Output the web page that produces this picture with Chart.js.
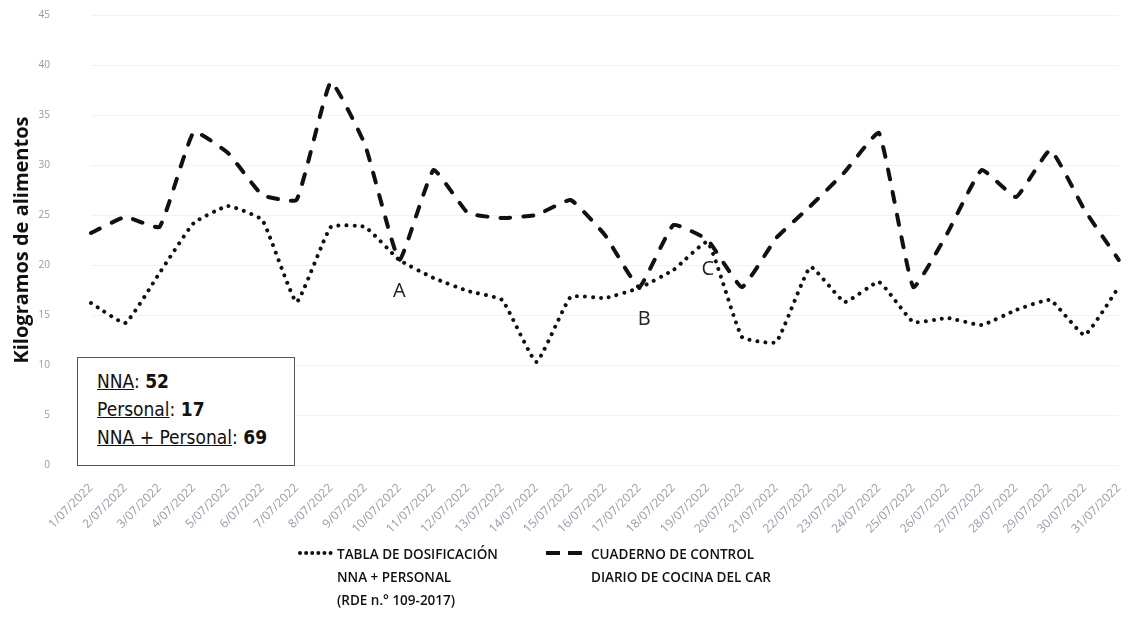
<!DOCTYPE html>
<html>
<head>
<meta charset="utf-8">
<script src="https://cdn.jsdelivr.net/npm/chart.js"></script>
<style>
  html, body { margin: 0; padding: 0; background: #fff; }
  #wrap { position: relative; width: 1137px; height: 636px; overflow: hidden; }
  #chart { position: absolute; left: 0; top: 0; }
  #infoBox {
    position: absolute; left: 77px; top: 357px; width: 218px; height: 109px;
    border: 1px solid #555; background: #fff;
    font-family: "Liberation Sans Narrow", "DejaVu Sans Condensed", sans-serif;
    font-size: 19px; color: #111; line-height: 28px;
    padding: 9px 0 0 19px; box-sizing: border-box;
  }
  .legend {
    position: absolute; top: 543px;
    font-family: "Open Sans", sans-serif; font-weight: 600; font-size: 13.5px;
    color: #111; line-height: 23px;
  }
  .sample { position: absolute; top: 4px; }
</style>
</head>
<body>
<div id="wrap">
  <canvas id="chart" width="1137" height="636"></canvas>
  <div id="infoBox">
    <u>NNA</u>: <b>52</b><br>
    <u>Personal</u>: <b>17</b><br>
    <u>NNA + Personal</u>: <b>69</b>
  </div>
  <div class="legend" style="left:337px">
    <svg class="sample" style="left:-40px" width="36" height="12">
      <line x1="3" y1="6" x2="34" y2="6" stroke="#111" stroke-width="4" stroke-linecap="round" stroke-dasharray="0.01 6.1"/>
    </svg>
    TABLA DE DOSIFICACIÓN<br>NNA + PERSONAL<br>(RDE n.° 109-2017)
  </div>
  <div class="legend" style="left:591px">
    <svg class="sample" style="left:-47px" width="40" height="12">
      <line x1="2" y1="6" x2="38" y2="6" stroke="#111" stroke-width="4" stroke-dasharray="14 8"/>
    </svg>
    CUADERNO DE CONTROL<br>DIARIO DE COCINA DEL CAR
  </div>
</div>
<script>
// Dates (x axis)
const days = [
  "1/07/2022", "2/07/2022", "3/07/2022", "4/07/2022", "5/07/2022", "6/07/2022",
  "7/07/2022", "8/07/2022", "9/07/2022", "10/07/2022", "11/07/2022", "12/07/2022",
  "13/07/2022", "14/07/2022", "15/07/2022", "16/07/2022", "17/07/2022", "18/07/2022",
  "19/07/2022", "20/07/2022", "21/07/2022", "22/07/2022", "23/07/2022", "24/07/2022",
  "25/07/2022", "26/07/2022", "27/07/2022", "28/07/2022", "29/07/2022", "30/07/2022",
  "31/07/2022"
];

// Tabla de dosificación NNA + personal (dotted)
const tabla = [
  16.2, 14.2, 19.2, 24.2, 25.9, 24.5, 16.3, 23.8, 23.8, 20.5, 18.7,
  17.4, 16.5, 10.3, 16.8, 16.7, 17.7, 19.5, 22.3, 12.8, 12.3,
  19.8, 16.3, 18.3, 14.3, 14.7, 14.0, 15.5, 16.5, 13.0, 17.8
];

// Cuaderno de control diario de cocina (dashed)
const cuaderno = [
  23.2, 24.8, 23.8, 33.3, 31.2, 27.0, 26.5, 38.3, 32.0, 20.5, 29.5,
  25.2, 24.7, 25.0, 26.5, 23.0, 17.8, 24.0, 22.5, 17.8, 22.7,
  25.9, 29.3, 33.2, 17.8, 23.2, 29.5, 26.8, 31.5, 25.5, 20.5
];

// Letters marked on the chart
const markLetters = ["A", "B", "C"];
const markIndex = [9, 16, 18];
const markValue = [17.4, 14.6, 19.6];

const yTicks = [0, 5, 10, 15, 20, 25, 30, 35, 40, 45];

// Draw the A / B / C letters at data positions
const letterPlugin = {
  id: "letters",
  afterDatasetsDraw(chart) {
    const ctx = chart.ctx;
    const x = chart.scales.x;
    const y = chart.scales.y;
    ctx.save();
    ctx.fillStyle = "#222";
    ctx.font = "20px 'Open Sans', sans-serif";
    ctx.textAlign = "center";
    ctx.textBaseline = "middle";
    markLetters.forEach((letter, i) => {
      ctx.fillText(letter, x.getPixelForValue(markIndex[i]) + (i === 1 ? 5 : 0), y.getPixelForValue(markValue[i]));
    });
    ctx.restore();
  },
};

const ctx = document.getElementById("chart").getContext("2d");
new Chart(ctx, {
  type: "line",
  data: {
    labels: days,
    datasets: [
      {
        label: "TABLA DE DOSIFICACIÓN NNA + PERSONAL (RDE n.° 109-2017)",
        data: tabla,
        borderColor: "#111",
        borderWidth: 4,
        borderDash: [0.01, 8],
        borderCapStyle: "round",
        pointRadius: 0,
        tension: 0.12,
        fill: false,
      },
      {
        label: "CUADERNO DE CONTROL DIARIO DE COCINA DEL CAR",
        data: cuaderno,
        borderColor: "#111",
        borderWidth: 4,
        borderDash: [10, 13],
        borderCapStyle: "round",
        pointRadius: 0,
        tension: 0.12,
        fill: false,
      },
    ],
  },
  options: {
    responsive: false,
    animation: false,
    layout: { padding: { left: 0, right: 12, top: 15, bottom: 101 } },
    plugins: {
      legend: { display: false },
      tooltip: { enabled: false },
    },
    scales: {
      x: {
        afterFit: (s) => { s.height = 70; },
        grid: { display: false },
        border: { display: false },
        ticks: {
          autoSkip: false,
          minRotation: 45,
          maxRotation: 45,
          padding: 8,
          color: "#9a9aaa",
          font: { family: "'Open Sans', sans-serif", size: 12 },
        },
      },
      y: {
        min: 0,
        max: 45,
        afterFit: (s) => {
          s.width = 91;
          s.paddingTop = 0;
          s.paddingBottom = 0;
        },
        afterBuildTicks: (s) => { s.ticks = yTicks.map((v) => ({ value: v })); },
        grid: { color: "rgba(0,0,0,0.05)", drawTicks: false },
        border: { display: false },
        ticks: {
          padding: 41,
          color: "#999",
          font: { family: "'Open Sans', sans-serif", size: 10 },
        },
        title: {
          display: true,
          text: "Kilogramos de alimentos",
          color: "#111",
          padding: { top: 10, bottom: 0 },
          font: { family: "'Open Sans', sans-serif", size: 20, weight: "bold" },
        },
      },
    },
  },
  plugins: [letterPlugin],
});
</script>
</body>
</html>
